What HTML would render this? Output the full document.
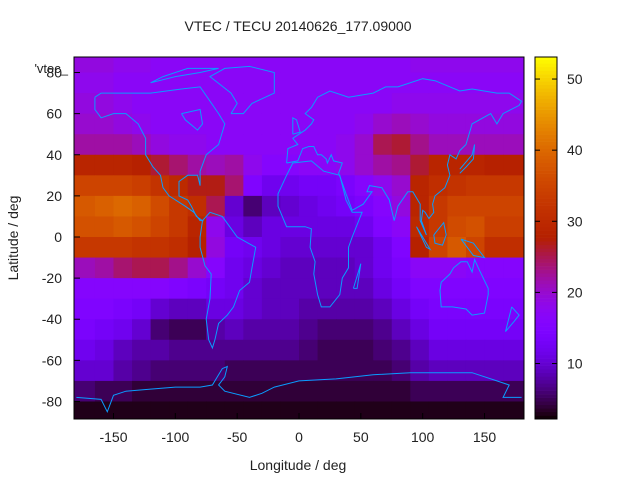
<!DOCTYPE html>
<html><head><meta charset="utf-8"><style>
body{margin:0;background:#fff;}
svg text{font-family:"Liberation Sans",sans-serif;fill:#222;}
</style></head><body>
<svg id="chart" width="640" height="480" viewBox="0 0 640 480" xmlns="http://www.w3.org/2000/svg">
<defs><clipPath id="plotclip"><rect x="74" y="57" width="450" height="362"/></clipPath></defs>
<rect width="640" height="480" fill="#fff"/>
<text x="298" y="31" font-size="14" text-anchor="middle">VTEC / TECU 20140626_177.09000</text>
<g id="heat" clip-path="url(#plotclip)"></g>
<g id="coast" clip-path="url(#plotclip)" fill="none" stroke="#0a9cff" stroke-width="1"></g>
<rect x="74" y="57" width="450" height="362" fill="none" stroke="#000" stroke-width="1"/>
<g id="axes"></g>
<g id="cbar"></g>
<text x="298" y="470" font-size="14" text-anchor="middle">Longitude / deg</text>
<text transform="translate(18,238) rotate(-90)" font-size="14" text-anchor="middle">Latitude / deg</text>
<text x="68" y="73" font-size="13" text-anchor="end">'vtec_</text>
</svg>
<script>
const lonEdges=[-180,-165,-150,-135,-120,-105,-90,-75,-60,-45,-30,-15,0,15,30,45,60,75,90,105,120,135,150,165,180];
const latEdges=[90,80,70,60,50,40,30,20,10,0,-10,-20,-30,-40,-50,-60,-70,-80,-90];
const tecRows=[
[19,19,18,18,17,17,17,17,17,17,17,17,17,17,17,17,17,17,18,18,18,18,18,18],
[18,18,17,17,17,17,17,17,17,17,17,17,17,17,17,17,17,17,17,17,17,17,17,17],
[19,19,18,17,17,17,17,17,17,17,17,17,17,17,17,17,17,18,18,18,18,18,18,18],
[20,20,19,18,17,17,17,17,17,17,17,17,17,17,17,18,20,21,20,19,19,19,19,19],
[22,22,22,21,19,18,18,17,17,17,17,17,17,17,18,20,25,26,23,21,21,21,21,21],
[29,29,29,28,26,24,22,21,22,18,16,16,17,17,18,20,22,23,26,29,29,29,28,28],
[35,35,35,34,32,30,27,27,24,15,12,12,13,13,14,16,18,20,29,31,32,33,33,33],
[38,39,40,39,36,33,31,25,10,6,9,10,11,12,13,14,16,19,29,33,35,35,35,35],
[37,37,38,37,35,33,29,18,11,9,11,11,11,11,11,12,15,17,30,33,36,37,34,34],
[33,33,33,32,32,31,28,19,13,12,11,10,10,10,10,10,12,15,28,35,38,35,31,31],
[21,22,24,25,25,23,20,16,12,11,10,9,9,9,9,10,12,14,17,17,17,16,16,16],
[16,16,16,16,16,15,14,13,12,10,9,9,9,9,9,9,11,13,15,15,15,15,15,15],
[15,15,14,13,10,9,9,11,11,10,9,9,8,8,8,8,9,11,13,14,14,14,14,14],
[14,13,12,10,6,5,5,8,9,8,8,8,7,6,6,6,7,9,11,13,13,13,13,13],
[12,11,9,8,8,7,7,7,7,7,7,7,6,5,5,5,6,7,9,11,11,11,11,11],
[10,10,8,7,6,6,6,6,5,5,5,5,5,5,5,5,5,6,8,9,9,9,9,9],
[6,5,5,4,4,4,4,4,4,4,4,4,4,4,4,4,4,4,5,5,5,5,5,5],
[3,3,3,3,3,3,3,3,3,3,3,3,3,3,3,3,3,3,3,3,3,3,3,3]
];
const cbMin=2.2, cbMax=53.1;
const xTicks=[-150,-100,-50,0,50,100,150];
const yTicks=[-80,-60,-40,-20,0,20,40,60,80];
const cbTicks=[10,20,30,40,50];
const NS='http://www.w3.org/2000/svg';
function X(lon){return 299+lon*1.2367;}
function Y(lat){return 237-lat*2.056;}
function CY(v){return 419-(v-cbMin)/(cbMax-cbMin)*362;}
function pal(v){let x=Math.max(0,Math.min(1,(v-cbMin)/(cbMax-cbMin)));
 const r=Math.sqrt(x),g=x*x*x,b=Math.max(0,Math.sin(2*Math.PI*x));
 return 'rgb('+Math.round(r*255)+','+Math.round(g*255)+','+Math.round(b*255)+')';}
function mk(tag,attrs,parent){const e=document.createElementNS(NS,tag);for(const k in attrs)e.setAttribute(k,attrs[k]);parent.appendChild(e);return e;}
const heat=document.getElementById('heat');
tecRows.forEach((row,i)=>row.forEach((v,j)=>{
 let x0=X(lonEdges[j]),x1=X(lonEdges[j+1]),y0=Y(latEdges[i]),y1=Y(latEdges[i+1]);
 if(j===0)x0-=5; if(j===row.length-1)x1+=5; if(i===0)y0-=5; if(i===tecRows.length-1)y1+=5;
 const r=mk('rect',{x:x0,y:y0,width:x1-x0+0.5,height:y1-y0+0.5,fill:pal(v)},heat);
 
 
}));
const coasts=[
[[-165,68],[-160,70],[-140,70],[-120,70],[-95,72],[-80,73],[-65,60],[-60,55],[-65,45],[-75,40],[-80,32],[-80,25],[-82,30],[-90,30],[-97,27],[-97,20],[-90,18],[-87,15],[-83,10],[-78,8],[-80,8],[-85,12],[-92,15],[-105,20],[-110,24],[-112,30],[-115,32],[-118,34],[-124,40],[-124,48],[-130,55],[-140,60],[-150,60],[-160,58],[-165,62],[-165,68]],
[[-95,60],[-80,62],[-78,55],[-82,52],[-92,57],[-95,60]],
[[-55,60],[-45,60],[-38,65],[-20,70],[-20,80],[-40,83],[-60,82],[-72,78],[-55,70],[-50,65],[-55,60]],
[[-120,75],[-100,78],[-80,80],[-65,82],[-90,82],[-110,78],[-120,75]],
[[-78,8],[-72,12],[-62,10],[-50,0],[-35,-5],[-38,-15],[-40,-22],[-48,-26],[-53,-34],[-58,-38],[-65,-42],[-68,-50],[-70,-54],[-73,-50],[-75,-40],[-72,-30],[-71,-18],[-76,-14],[-80,-5],[-80,0],[-78,8]],
[[-17,21],[-17,15],[-10,5],[5,5],[10,4],[9,-5],[13,-12],[12,-18],[15,-28],[18,-34],[25,-34],[33,-28],[35,-20],[40,-15],[40,-5],[43,0],[51,12],[43,12],[38,18],[33,30],[20,32],[10,37],[-5,36],[-10,30],[-17,21]],
[[-10,36],[-9,43],[-1,45],[-5,48],[5,52],[10,55],[12,57],[5,60],[10,63],[15,68],[25,71],[40,68],[60,70],[70,73],[80,73],[100,77],[110,76],[130,71],[140,72],[160,70],[170,70],[180,66],[178,64],[165,60],[160,55],[155,60],[140,55],[135,45],[130,42],[127,38],[122,40],[120,35],[122,30],[118,24],[110,20],[108,16],[109,12],[105,9],[102,12],[100,13],[99,8],[103,1],[98,8],[98,16],[92,22],[88,22],[80,15],[77,8],[73,18],[67,24],[57,25],[55,22],[59,22],[52,16],[43,13],[38,21],[34,28],[32,31],[35,36],[28,37],[26,40],[23,36],[22,38],[18,40],[15,40],[12,44],[8,44],[3,43],[-1,37],[-10,36]],
[[115,-22],[114,-26],[115,-34],[124,-34],[135,-35],[140,-38],[150,-37],[153,-28],[153,-25],[145,-15],[142,-11],[140,-17],[136,-12],[131,-12],[125,-15],[122,-18],[115,-22]],
[[-180,-78],[-160,-79],[-155,-85],[-150,-77],[-140,-75],[-120,-74],[-100,-73],[-80,-73],[-70,-72],[-62,-64],[-58,-63],[-60,-68],[-65,-72],[-60,-75],[-40,-78],[-30,-76],[-20,-73],[0,-70],[30,-69],[60,-67],[90,-66],[120,-66],[140,-66],[160,-70],[170,-72],[165,-78],[180,-78]],
[[109,1],[117,7],[119,1],[116,-4],[110,-3],[109,1]],
[[95,5],[106,-6],[103,-5],[95,5]],
[[131,-1],[141,-3],[150,-10],[141,-9],[131,-1]],
[[130,31],[135,34],[141,38],[142,45],[140,40],[130,33]],
[[-5,50],[1,51],[-2,57],[-5,58],[-5,50]],
[[44,-25],[49,-15],[50,-13],[47,-25],[44,-25]],
[[172,-34],[178,-38],[174,-41],[167,-46],[172,-34]]
];
const coast=document.getElementById('coast');
coasts.forEach(c=>{const p=mk('polyline',{points:c.map(q=>X(q[0]).toFixed(1)+','+Y(q[1]).toFixed(1)).join(' ')},coast);
 
 });
const axes=document.getElementById('axes');
xTicks.forEach(t=>{const x=X(t);
 mk('line',{x1:x,y1:419,x2:x,y2:413,stroke:'#000'},axes);
 const tx=mk('text',{x:x,y:442,'font-size':14,'text-anchor':'middle'},axes);tx.textContent=t;
 
 });
yTicks.forEach(t=>{const y=Y(t);
 mk('line',{x1:74,y1:y,x2:80,y2:y,stroke:'#000'},axes);
 const tx=mk('text',{x:62,y:y+5,'font-size':14,'text-anchor':'end'},axes);tx.textContent=t;
 
 });
const cb=document.getElementById('cbar');
for(let v=cbMin;v<cbMax;v+=0.5){const y0=CY(Math.min(v+0.5,cbMax)),y1=CY(v);
 mk('rect',{x:535,y:y0,width:22,height:y1-y0+0.3,fill:pal(v+0.25)},cb);}
mk('rect',{x:535,y:57,width:22,height:362,fill:'none',stroke:'#000'},cb);
cbTicks.forEach(t=>{const y=CY(t);
 mk('line',{x1:535,y1:y,x2:540,y2:y,stroke:'#000'},cb);
 mk('line',{x1:552,y1:y,x2:557,y2:y,stroke:'#000'},cb);
 const tx=mk('text',{x:567,y:y+5,'font-size':14},cb);tx.textContent=t;
 
 });
</script>
</body></html>
